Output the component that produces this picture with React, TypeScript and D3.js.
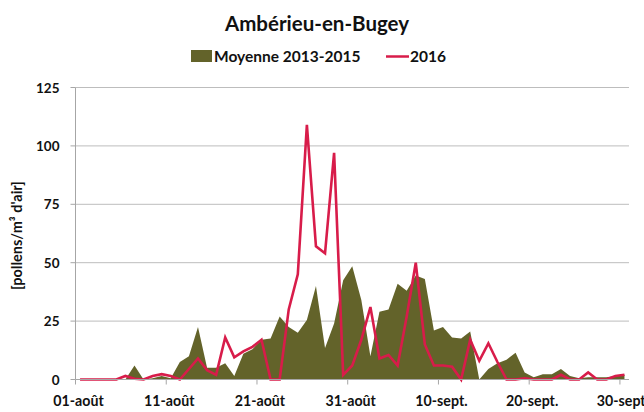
import React from 'react';
import * as d3 from 'd3';

// daily values, 01-août .. 30-sept
const dayLabels = ['01-août', '11-août', '21-août', '31-août', '10-sept.', '20-sept.', '30-sept.'];
const moyenne = [
  0, 0, 0, 0, 0, 0, 6, 0, 0.5, 1.5,
  0.5, 7.5, 10, 22.5, 5, 5, 7, 1.5, 11, 13,
  17, 17.5, 27, 22.5, 20, 25.5, 40, 13.5, 24, 42.5,
  48.5, 34, 10, 29, 30, 41, 38, 44.5, 43, 21,
  22.5, 18, 17.5, 20.5, 0, 4.5, 7, 8.5, 11.5, 3,
  1, 2.3, 2.2, 4.5, 1.5, 0.5, 1, 1, 1, 1.5, 2,
];
const y2016 = [
  0, 0, 0, 0, 0, 1.5, 0.3, 0, 1.5, 2.3,
  1.5, 0, 4.5, 9, 4, 2, 18, 9.5, 12, 14,
  17, 0, 0, 30, 45, 109, 57, 54, 97, 2,
  6, 17, 31, 9, 10.5, 6, 27, 50, 15, 6,
  6, 5.5, 0, 17, 8, 15.5, 7.5, 0, 0, 0.5,
  0, 0, 0, 2, 0, 0, 3, 0, 0, 1.5, 2,
];
const yTicks = [0, 25, 50, 75, 100, 125];

const W = 644;
const H = 412;
const left = 75.5;
const right = 629;
const top = 87.5;
const bottom = 379.5;
const olive = '#63632a';
const red = '#d81c4a';
const font = 'Lato, "Open Sans", sans-serif';

export default function App() {
  const days = d3.range(moyenne.length);
  const x = d3.scaleBand<number>().domain(days).range([left, right]).paddingInner(0).paddingOuter(0);
  const cx = (i: number) => (x(i) as number) + x.bandwidth() / 2;
  const y = d3.scaleLinear().domain([0, 125]).range([bottom, top]);

  const area = d3
    .area<number>()
    .x((_, i) => cx(i))
    .y0(y(0))
    .y1((d) => y(d));
  const line = d3
    .line<number>()
    .x((_, i) => cx(i))
    .y((d) => y(d));

  const tickDays = dayLabels.map((_, k) => k * 10);

  return (
    <svg width={W} height={H} style={{ position: 'absolute', left: 0, top: 0, background: '#fff' }}>
      <text x={317} y={31} textAnchor="middle" fontFamily={font} fontWeight={700} fontSize={20.5} fill="#111">
        Ambérieu-en-Bugey
      </text>
      {/* legend */}
      <rect x={191} y={50} width={21} height={12} fill={olive} />
      <text x={214} y={62} fontFamily={font} fontWeight={700} fontSize={15.5} fill="#111">
        Moyenne 2013-2015
      </text>
      <line x1={386} x2={409} y1={56.5} y2={56.5} stroke={red} strokeWidth={2.5} />
      <text x={410} y={62} fontFamily={font} fontWeight={700} fontSize={15.5} fill="#111">
        2016
      </text>

      {/* gridlines + y ticks */}
      {yTicks.map((t) => (
        <g key={t}>
          {t > 0 && <line x1={left} x2={right} y1={y(t)} y2={y(t)} stroke="#bdbdbd" strokeWidth={1} />}
          <line x1={left - 5} x2={left} y1={y(t)} y2={y(t)} stroke="#a6a6a6" />
          <text x={left - 16} y={y(t) + 5} textAnchor="end" fontFamily={font} fontWeight={700} fontSize={13.5} fill="#111">
            {t}
          </text>
        </g>
      ))}

      <path d={area(moyenne) || ''} fill={olive} />
      <path d={line(y2016) || ''} fill="none" stroke={red} strokeWidth={2.6} strokeLinejoin="miter" />

      {/* axes */}
      <line x1={left} x2={left} y1={top} y2={bottom} stroke="#a6a6a6" />
      <line x1={left} x2={right} y1={bottom} y2={bottom} stroke="#a6a6a6" />
      {tickDays.map((d, k) => {
        const tx = d < moyenne.length ? (x(d) as number) : right;
        return (
          <g key={d}>
            <line x1={tx} x2={tx} y1={bottom} y2={bottom + 5} stroke="#a6a6a6" />
            <text x={tx + 3} y={bottom + 26} textAnchor="middle" fontFamily={font} fontWeight={700} fontSize={14.2} fill="#111">
              {dayLabels[k]}
            </text>
          </g>
        );
      })}

      <text
        transform={`translate(22,${(top + bottom) / 2 + 2}) rotate(-90)`}
        textAnchor="middle"
        fontFamily={font}
        fontWeight={700}
        fontSize={14.5}
        fill="#111"
      >
        [pollens/m³ d'air]
      </text>
    </svg>
  );
}
